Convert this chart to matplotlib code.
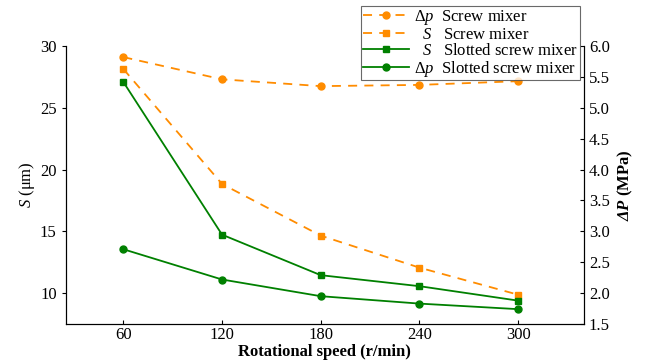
import matplotlib.pyplot as plt

plt.rcParams['font.family'] = ['Liberation Serif', 'DejaVu Serif']
plt.rcParams['mathtext.fontset'] = 'custom'
plt.rcParams['mathtext.rm'] = 'Liberation Serif'
plt.rcParams['mathtext.it'] = 'Liberation Serif:italic'
plt.rcParams['mathtext.bf'] = 'Liberation Serif:bold'
plt.rcParams['mathtext.bfit'] = 'Liberation Serif:bold:italic'

speed = [60, 120, 180, 240, 300]
s_screw = [28.14, 18.83, 14.65, 12.06, 9.87]
s_slotted = [27.09, 14.73, 11.45, 10.56, 9.39]
dp_screw = [5.82, 5.46, 5.35, 5.37, 5.43]
dp_slotted = [2.71, 2.22, 1.95, 1.83, 1.74]

orange = '#FF8C00'
green = '#008000'

fig = plt.figure(figsize=(6.51, 3.62), dpi=100)
ax = fig.add_axes([0.101, 0.105, 0.796, 0.768])
ax2 = ax.twinx()

l2, = ax.plot(speed, s_screw, '--s', color=orange, lw=1.3, ms=5, dashes=(5, 4))
l3, = ax.plot(speed, s_slotted, '-s', color=green, lw=1.3, ms=5)
l1, = ax2.plot(speed, dp_screw, '--o', color=orange, lw=1.3, ms=5, dashes=(5, 4))
l4, = ax2.plot(speed, dp_slotted, '-o', color=green, lw=1.3, ms=5)

ax.set_xlim(25, 340)
ax.set_ylim(7.5, 30)
ax2.set_ylim(1.5, 6.0)
ax.set_xticks(speed)
ax.set_yticks([10, 15, 20, 25, 30])
ax2.set_yticks([1.5, 2.0, 2.5, 3.0, 3.5, 4.0, 4.5, 5.0, 5.5, 6.0])
ax2.set_yticklabels(['%.1f' % v for v in ax2.get_yticks()])

for a in (ax, ax2):
    a.spines['top'].set_visible(False)
ax.tick_params(axis='x', direction='in', length=3, labelsize=12, pad=2)
ax.tick_params(axis='y', direction='out', length=3, labelsize=12)
ax2.tick_params(axis='y', direction='in', length=3, labelsize=12)

ax.set_xlabel('Rotational speed (r/min)', fontsize=12, fontweight='bold', labelpad=1)
ax.set_ylabel('$S$ (μm)', fontsize=12, labelpad=2)
ax2.set_ylabel(r'$\mathbfit{\Delta P}$ (MPa)', fontsize=12, fontweight='bold', labelpad=4)

handles = [l1, l2, l3, l4]
labels = [r'$\mathit{\Delta p}$  Screw mixer', r'  $S$   Screw mixer',
          r'  $S$   Slotted screw mixer', r'$\mathit{\Delta p}$  Slotted screw mixer']
leg = ax2.legend(handles, labels, loc='upper right', bbox_to_anchor=(0.992, 1.144),
                 fontsize=12, frameon=True, fancybox=False, edgecolor='#444444',
                 borderpad=0.1, labelspacing=0.0, handlelength=2.8, handletextpad=0.3,
                 borderaxespad=0)
leg.get_frame().set_linewidth(0.8)

fig.savefig('out.png', dpi=100)
